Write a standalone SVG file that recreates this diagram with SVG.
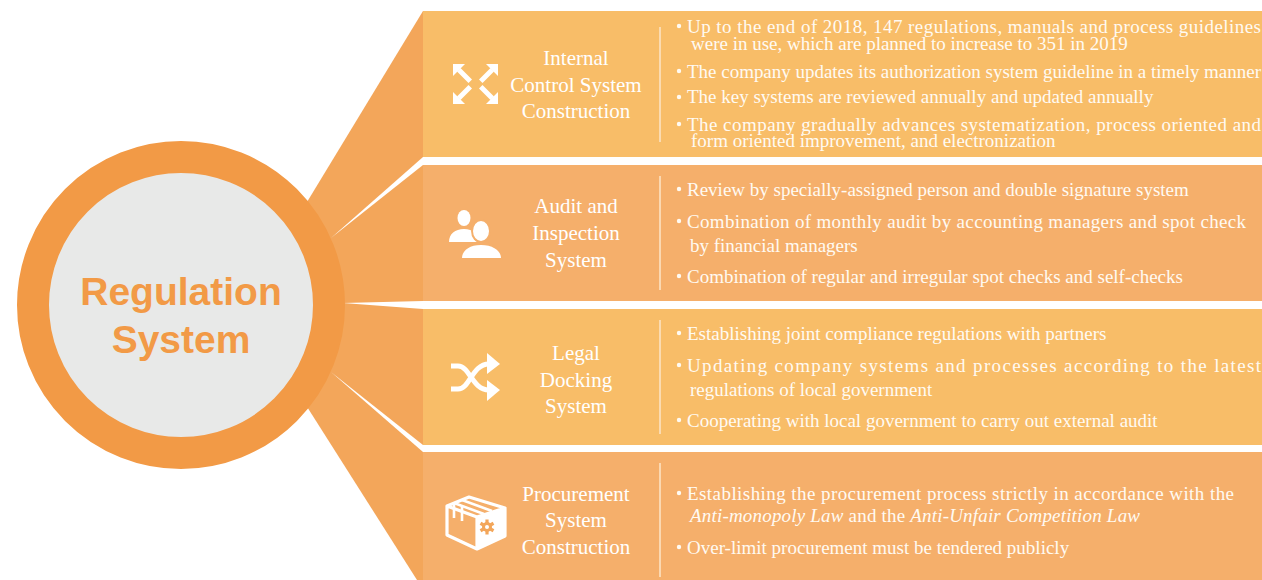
<svg xmlns="http://www.w3.org/2000/svg" width="1262" height="580" viewBox="0 0 1262 580">
<style>
.row1{fill:#F8BD68}
.row2{fill:#F5AF6B}
.fan{fill:#F3A65A}
.div{stroke:#FCE6C8;stroke-width:1.5}
.title{font-family:"Liberation Serif","Times New Roman",serif;font-size:21px;fill:#FFFFFF;text-anchor:middle}
.item{font-family:"Liberation Serif","Times New Roman",serif;font-size:19px;fill:#FFFAF2}
.bul{fill:#FFFAF2}
.ico{fill:#FFFFFF}
.icos{fill:none;stroke:#FFFFFF;stroke-linecap:butt;stroke-linejoin:round}
.hub{font-family:"Liberation Sans",Arial,sans-serif;font-size:39px;font-weight:bold;fill:#F29A46;text-anchor:middle}
</style>
<defs>
<g id="cornerArrow">
<path d="M0,0 H12 L0,12 Z"/>
<path d="M4,7.5 L7.5,4 L19,15.5 L15.5,19 Z"/>
</g>
</defs>
<rect width="1262" height="580" fill="#FFFFFF"/>

<g id="connectors">
<polygon class="fan" points="423,11 423,580 417,580 290,380 290,230"/>
<polygon fill="#FFFFFF" points="423,157 423,165 331,238"/>
<polygon fill="#FFFFFF" points="423,301 423,309 343,303"/>
<polygon fill="#FFFFFF" points="423,445 423,452 331,372"/>
</g>

<g id="hub">
<circle cx="181" cy="305" r="148" fill="#E8E9E8" stroke="#F29A46" stroke-width="32"/>
<text class="hub" x="181" y="305">Regulation</text>
<text class="hub" x="181" y="353">System</text>
</g>

<g id="row-internal-control">
<rect class="row1" x="423" y="11" width="839" height="146"/>
<line class="div" x1="660" y1="27" x2="660" y2="142"/>
<g class="ico" transform="translate(453,64)">
<use href="#cornerArrow"/>
<use href="#cornerArrow" transform="translate(45,0) scale(-1,1)"/>
<use href="#cornerArrow" transform="translate(0,40) scale(1,-1)"/>
<use href="#cornerArrow" transform="translate(45,40) scale(-1,-1)"/>
</g>
<text class="title" x="576" y="65">Internal</text>
<text class="title" x="576" y="92">Control System</text>
<text class="title" x="576" y="118">Construction</text>
<circle class="bul" cx="679" cy="26" r="2.2"/>
<text class="item" x="687" y="33" textLength="574">Up to the end of 2018, 147 regulations, manuals and process guidelines</text>
<text class="item" x="691" y="50">were in use, which are planned to increase to 351 in 2019</text>
<circle class="bul" cx="679" cy="71" r="2.2"/>
<text class="item" x="687" y="78" textLength="574">The company updates its authorization system guideline in a timely manner</text>
<circle class="bul" cx="679" cy="97" r="2.2"/>
<text class="item" x="687" y="103">The key systems are reviewed annually and updated annually</text>
<circle class="bul" cx="679" cy="124" r="2.2"/>
<text class="item" x="687" y="131" textLength="574">The company gradually advances systematization, process oriented and</text>
<text class="item" x="691" y="147">form oriented improvement, and electronization</text>
</g>

<g id="row-audit">
<rect class="row2" x="423" y="165" width="839" height="136"/>
<line class="div" x1="660" y1="176" x2="660" y2="290"/>
<g class="ico">
<ellipse cx="464" cy="218" rx="6.5" ry="8"/>
<path d="M449,242 C449,234 455,229 464,229 C473,229 479,234 479,242 Z"/>
<ellipse cx="481" cy="231" rx="10" ry="12" fill="#F5AF6B"/>
<path d="M460,260 C460,250 468,242 481,242 C494,242 503,250 503,260 Z" fill="#F5AF6B"/>
<ellipse cx="481" cy="231" rx="8" ry="10"/>
<path d="M462,258 C462,251 469,245 481,245 C493,245 501,251 501,258 Z"/>
</g>
<text class="title" x="576" y="213">Audit and</text>
<text class="title" x="576" y="240">Inspection</text>
<text class="title" x="576" y="267">System</text>
<circle class="bul" cx="679" cy="189" r="2.2"/>
<text class="item" x="687" y="196">Review by specially-assigned person and double signature system</text>
<circle class="bul" cx="679" cy="221" r="2.2"/>
<text class="item" x="687" y="228" textLength="559">Combination of monthly audit by accounting managers and spot check</text>
<text class="item" x="690" y="252">by financial managers</text>
<circle class="bul" cx="679" cy="276" r="2.2"/>
<text class="item" x="687" y="283">Combination of regular and irregular spot checks and self-checks</text>
</g>

<g id="row-legal">
<rect class="row1" x="423" y="309" width="839" height="136"/>
<line class="div" x1="660" y1="320" x2="660" y2="434"/>
<g>
<path class="icos" stroke-width="5" d="M451,366 H458 C470,366 472,390 489,390"/>
<path class="icos" stroke-width="5" d="M451,389 H458 C470,389 472,364 489,364"/>
<path class="ico" d="M487,353 L500,364 L487,374 Z"/>
<path class="ico" d="M487,380 L500,390 L487,401 Z"/>
</g>
<text class="title" x="576" y="360">Legal</text>
<text class="title" x="576" y="387">Docking</text>
<text class="title" x="576" y="413">System</text>
<circle class="bul" cx="679" cy="333" r="2.2"/>
<text class="item" x="687" y="340">Establishing joint compliance regulations with partners</text>
<circle class="bul" cx="679" cy="365" r="2.2"/>
<text class="item" x="687" y="372" textLength="574">Updating company systems and processes according to the latest</text>
<text class="item" x="690" y="396">regulations of local government</text>
<circle class="bul" cx="679" cy="420" r="2.2"/>
<text class="item" x="687" y="427">Cooperating with local government to carry out external audit</text>
</g>

<g id="row-procurement">
<rect class="row2" x="423" y="452" width="839" height="128"/>
<line class="div" x1="660" y1="463" x2="660" y2="577"/>
<g>
<path d="M477,517 L505,508 L505,536 L477,549 Z" fill="#FFFFFF"/>
<path class="icos" stroke-width="3.2" d="M447,506 L469,497 L505,508 L477,517 Z M447,506 L447,535 L477,549 L505,536 L505,508 M477,517 L477,549"/>
<path class="icos" stroke-width="2.6" d="M454,503 L484,514 M462,500 L492,511"/>
<path class="icos" stroke-width="2.6" d="M454,503 L454,518 M462,506 L462,521"/>
<g transform="translate(487,527)" fill="#F3A65A">
<circle r="5"/>
<rect x="-1.6" y="-7.5" width="3.2" height="15"/>
<rect x="-1.6" y="-7.5" width="3.2" height="15" transform="rotate(60)"/>
<rect x="-1.6" y="-7.5" width="3.2" height="15" transform="rotate(120)"/>
<circle r="2" fill="#FFFFFF"/>
</g>
</g>
<text class="title" x="576" y="501">Procurement</text>
<text class="title" x="576" y="527">System</text>
<text class="title" x="576" y="554">Construction</text>
<circle class="bul" cx="679" cy="493" r="2.2"/>
<text class="item" x="687" y="500" textLength="547">Establishing the procurement process strictly in accordance with the</text>
<text class="item" x="690" y="522" textLength="450"><tspan font-style="italic">Anti-monopoly Law</tspan> and the <tspan font-style="italic">Anti-Unfair Competition Law</tspan></text>
<circle class="bul" cx="679" cy="547" r="2.2"/>
<text class="item" x="687" y="554">Over-limit procurement must be tendered publicly</text>
</g>
</svg>
